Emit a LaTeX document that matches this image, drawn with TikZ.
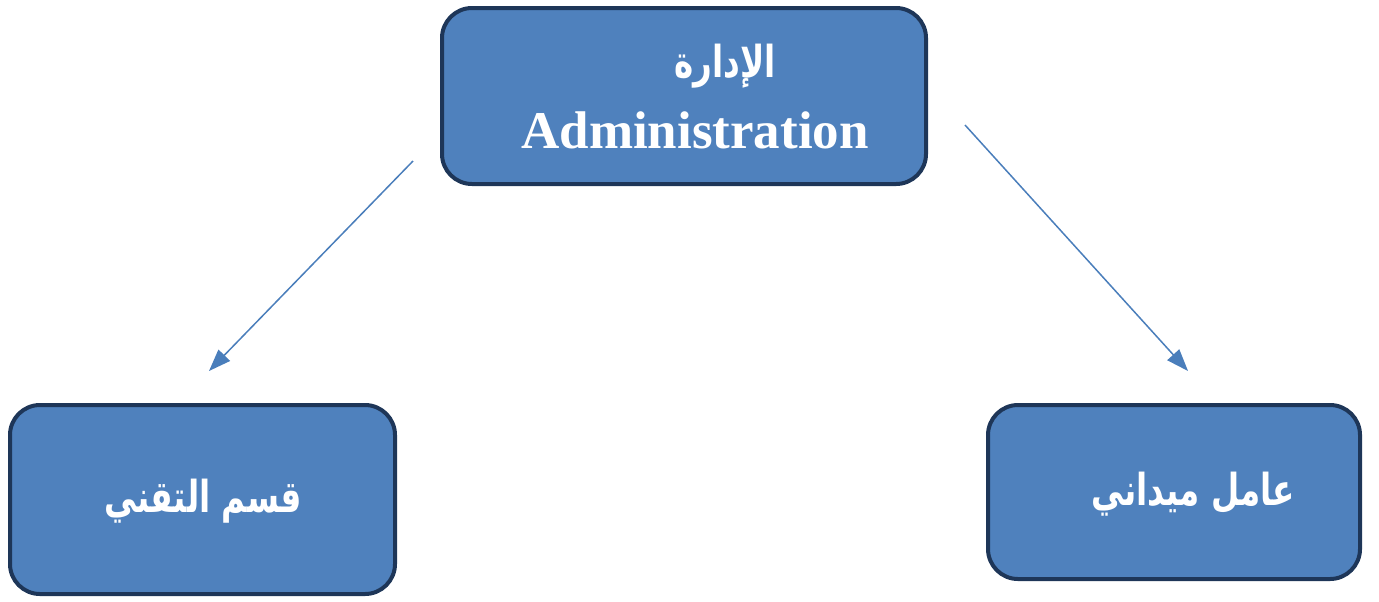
\documentclass[tikz,border=0pt]{standalone}
\usepackage{fontspec}
\setmainfont{Liberation Serif}
\newfontfamily\arabicfont[Script=Arabic,FakeStretch=0.74]{DejaVu Sans}
\TeXXeTstate=1
\usetikzlibrary{positioning,arrows.meta}
\definecolor{boxfill}{RGB}{79,129,189}
\definecolor{boxline}{RGB}{30,54,88}
\definecolor{arrowblue}{RGB}{74,126,187}
\newcommand{\ar}[1]{{\arabicfont\bfseries\beginR #1\endR}}
\tikzset{
  orgbox/.style ={draw=boxline, fill=boxfill, line width=2pt, rounded corners=15pt,
                  inner sep=0pt},
  lbl/.style    ={text=white, inner sep=0pt, align=center},
  arlbl/.style  ={lbl, font=\fontsize{22}{26}\selectfont},
  link/.style   ={-{Triangle[length=11pt,width=8pt]}, draw=arrowblue, line width=0.75pt},
}
\begin{document}
\begin{tikzpicture}[x=0.5pt,y=-0.5pt]
\useasboundingbox (0,0) rectangle (1379,601);
% boxes
\node[orgbox,minimum width=242pt,minimum height=88pt] (admin) at (684,96) {};
\node[orgbox,minimum width=192.5pt,minimum height=94.5pt] (tech) at (202.5,499.5) {};
\node[orgbox,minimum width=186pt,minimum height=87pt] (field) at (1174,492) {};
% texts
\node[arlbl] (adminar) at (725,66) {\ar{الإدارة}};
\node[lbl,font=\fontsize{26.5}{30}\selectfont\bfseries] (adminen) at (695,130) {Administration};
\node[arlbl] (techar) at (203,501) {\ar{قسم التقني}};
\node[arlbl] (fieldar) at (1193,494) {\ar{عامل ميداني}};
% links
\coordinate (ls) at (413,161); \coordinate (le) at (209,371);
\coordinate (rs) at (965,125); \coordinate (re) at (1188,371);
\draw[link] (ls) -- (le);
\draw[link] (rs) -- (re);
\end{tikzpicture}
\end{document}
